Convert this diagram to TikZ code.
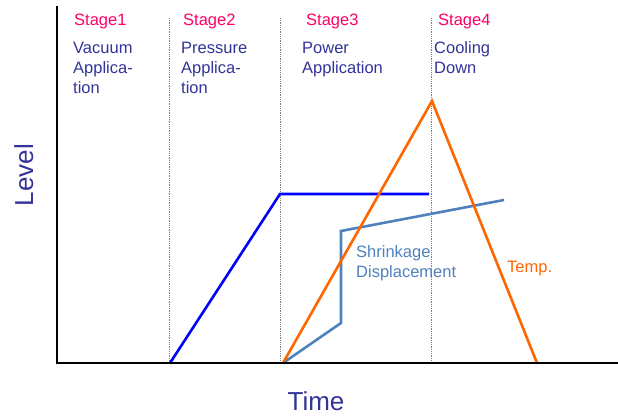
\documentclass[tikz,border=0pt]{standalone}
\usepackage{fontspec}
\setmainfont{Liberation Sans}
\definecolor{stagepink}{RGB}{255,0,102}
\definecolor{stagetext}{RGB}{51,51,153}
\definecolor{pressblue}{RGB}{0,0,255}
\definecolor{tempor}{RGB}{255,102,0}
\definecolor{shrinkblue}{RGB}{79,129,189}
\begin{document}
\begin{tikzpicture}[x=1pt,y=-1pt,
  stagelbl/.style={anchor=base west,inner sep=0pt,text=stagepink,font=\fontsize{16.5}{20}\selectfont},
  desclbl/.style={anchor=base west,inner sep=0pt,text=stagetext,align=left,font=\fontsize{16.5}{20}\selectfont},
  axislbl/.style={inner sep=0pt,text=stagetext,font=\fontsize{26}{30}\selectfont},
  divider/.style={draw=gray,densely dotted,line width=0.8pt},
  curve/.style={line width=2.6pt,line join=miter}]
\useasboundingbox (0,0) rectangle (618,415);
% axes
\coordinate (ytop) at (57,6);
\coordinate (orig) at (57,363);
\coordinate (xend) at (618,363);
% dividers
\coordinate (d1t) at (169,18); \coordinate (d1b) at (169,363);
\coordinate (d2t) at (280,18); \coordinate (d2b) at (280,363);
\coordinate (d3t) at (431,18); \coordinate (d3b) at (431,363);
\draw[divider] (d1t) -- (d1b);
\draw[divider] (d2t) -- (d2b);
\draw[divider] (d3t) -- (d3b);
% pressure (blue)
\coordinate (p0) at (170,363); \coordinate (p1) at (280,194); \coordinate (p2) at (429,194);
\draw[curve,pressblue] (p0) -- (p1) -- (p2);
% shrinkage (steel blue)
\coordinate (s0) at (283,363); \coordinate (s1) at (341,323); \coordinate (s2) at (341,231); \coordinate (s3) at (504,200);
\draw[curve,shrinkblue] (s0) -- (s1) -- (s2) -- (s3);
% temperature (orange)
\coordinate (t0) at (283,363); \coordinate (t1) at (432,101); \coordinate (t2) at (537,363);
\draw[curve,tempor] (t0) -- (t1) -- (t2);
% axes on top
\draw[line width=2pt] (ytop) -- (orig) -- (xend);
% stage labels
\node[stagelbl] (st1) at (74,25.5) {Stage1};
\node[stagelbl] (st2) at (183,25.5) {Stage2};
\node[stagelbl] (st3) at (306,25.5) {Stage3};
\node[stagelbl] (st4) at (438,25.5) {Stage4};
\node[desclbl] (ds1) at (73,93) {Vacuum\\Applica-\\tion};
\node[desclbl] (ds2) at (181,93) {Pressure\\Applica-\\tion};
\node[desclbl] (ds3) at (302,73) {Power\\Application};
\node[desclbl] (ds4) at (434,73) {Cooling\\Down};
% curve labels
\node[desclbl,text=shrinkblue] (shr) at (356,277) {Shrinkage\\Displacement};
\node[stagelbl,text=tempor] (tmp) at (507,272) {Temp.};
% axis labels
\node[axislbl,anchor=base] (time) at (316,410) {Time};
\node[axislbl,anchor=base,rotate=90] (level) at (33,175) {Level};
\end{tikzpicture}
\end{document}
